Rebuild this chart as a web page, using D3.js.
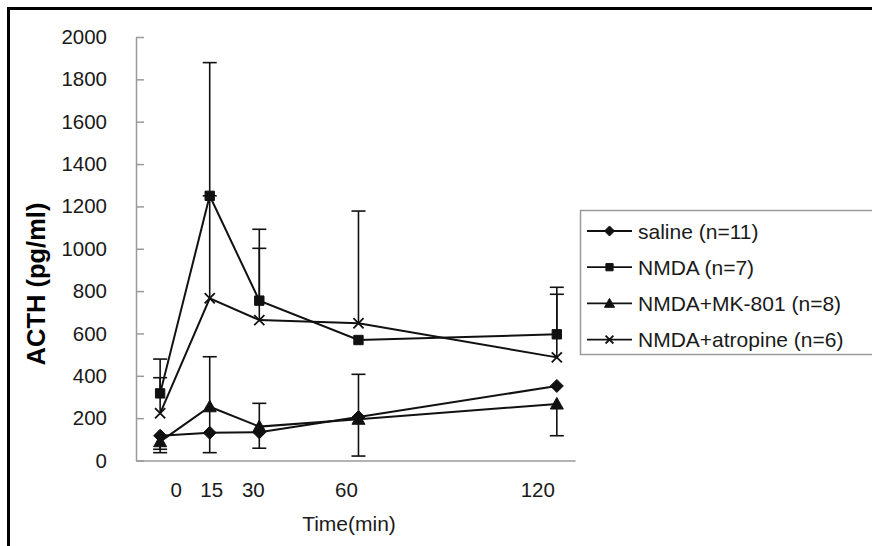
<!DOCTYPE html>
<html>
<head>
    <title>ACTH time course</title>
    <script src="https://d3js.org/d3.v7.min.js"></script>
    <style>
        body { margin: 0; background: #fff; }
        text { font-family: "Liberation Sans", Arial, sans-serif; fill: #1a1a1a; }
        .axis path, .axis line { stroke: #9a9a9a; stroke-width: 1.5px; }
        .series { fill: none; stroke: #111; stroke-width: 2px; }
        .err { stroke: #111; stroke-width: 1.6px; }
    </style>
</head>
<body>
<div id="chart"></div>
<script>
    // time points (min) and mean ACTH (pg/ml) per group
    const times = [0, 15, 30, 60, 120];
    const timeLabels = ["0", "15", "30", "60", "120"];
    const yTicks = [0, 200, 400, 600, 800, 1000, 1200, 1400, 1600, 1800, 2000];

    const saline = [117, 131, 133, 205, 352];
    const nmda = [317, 1250, 755, 569, 596];
    const mk801 = [89, 254, 160, 195, 267];
    const atropine = [223, 766, 663, 648, 487];

    // error bar ends (null = no bar drawn that way)
    const salineHi = [null, null, null, 407, null];
    const salineLo = [53, null, null, 21, null];
    const nmdaHi = [479, 1879, 1092, null, 818];
    const nmdaLo = [null, null, null, null, null];
    const mk801Hi = [null, 490, 270, null, null];
    const mk801Lo = [37, 37, 58, null, 117];
    const atropineHi = [391, 1250, 1002, 1178, 785];
    const atropineLo = [null, null, null, null, null];

    const groups = [
        { name: "saline (n=11)", values: saline, hi: salineHi, lo: salineLo, marker: "diamond" },
        { name: "NMDA (n=7)", values: nmda, hi: nmdaHi, lo: nmdaLo, marker: "square" },
        { name: "NMDA+MK-801 (n=8)", values: mk801, hi: mk801Hi, lo: mk801Lo, marker: "triangle" },
        { name: "NMDA+atropine (n=6)", values: atropine, hi: atropineHi, lo: atropineLo, marker: "cross" }
    ];

    const W = 872, H = 546;
    const svg = d3.select("#chart").append("svg")
        .attr("width", W)
        .attr("height", H);

    // frame of the figure (only top and left edges are visible)
    svg.append("path")
        .attr("d", `M8.5,${H} V8.5 H${W}`)
        .attr("fill", "none")
        .attr("stroke", "#000")
        .attr("stroke-width", 3);

    const x = d3.scaleLinear().domain([-7.3, 125.5]).range([136, 575]);
    const y = d3.scaleLinear().domain([0, 2000]).range([460.5, 37]);

    // y axis, ticks pointing inward
    svg.append("g")
        .attr("class", "axis")
        .attr("transform", "translate(136,0)")
        .call(d3.axisLeft(y).tickValues(yTicks).tickFormat(d3.format("d"))
            .tickSizeInner(-8).tickSizeOuter(0).tickPadding(29))
        .call(g => g.selectAll("text")
            .style("font-size", "20.5px")
            .style("font-family", "'Liberation Sans', Arial, sans-serif")
            .attr("fill", "#1a1a1a"));

    // x axis line only
    svg.append("g")
        .attr("class", "axis")
        .attr("transform", `translate(0,${y(0)})`)
        .call(d3.axisBottom(x).tickValues([]).tickSizeOuter(0));

    // x labels were placed by hand in the original, nudge them the same way
    const labelDx = [16, 2, -6, -12, -19];
    svg.append("g").selectAll("text")
        .data(times)
        .join("text")
        .attr("x", (d, i) => x(d) + labelDx[i])
        .attr("y", 496.5)
        .attr("text-anchor", "middle")
        .style("font-size", "20.5px")
        .text((d, i) => timeLabels[i]);

    svg.append("text")
        .attr("x", 349)
        .attr("y", 530.5)
        .attr("text-anchor", "middle")
        .style("font-size", "21px")
        .text("Time(min)");

    svg.append("text")
        .attr("transform", "translate(45,284) rotate(-90)")
        .attr("text-anchor", "middle")
        .style("font-size", "25.5px")
        .style("font-weight", "bold")
        .style("fill", "#000")
        .text("ACTH (pg/ml)");

    function markerPath(type, s) {
        if (type === "diamond") return `M0,${-s} L${s},0 L0,${s} L${-s},0 Z`;
        if (type === "square") { const h = s * 0.72; return `M${-h},${-h} H${h} V${h} H${-h} Z`; }
        if (type === "triangle") return `M0,${-s} L${s},${s * 0.78} L${-s},${s * 0.78} Z`;
        const c = s * 0.78;
        return `M${-c},${-c} L${c},${c} M${-c},${c} L${c},${-c}`;
    }

    function drawMarker(sel, type, s) {
        sel.append("path")
            .attr("d", markerPath(type, s))
            .attr("fill", type === "cross" ? "none" : "#111")
            .attr("stroke", "#111")
            .attr("stroke-width", type === "cross" ? 1.8 : 1);
    }

    const line = d3.line()
        .x((d, i) => x(times[i]))
        .y(d => y(d));

    const plot = svg.append("g");

    groups.forEach(gr => {
        // error bars
        times.forEach((t, i) => {
            [gr.hi[i], gr.lo[i]].forEach(end => {
                if (end === null) return;
                plot.append("line").attr("class", "err")
                    .attr("x1", x(t)).attr("x2", x(t))
                    .attr("y1", y(gr.values[i])).attr("y2", y(end));
                plot.append("line").attr("class", "err")
                    .attr("x1", x(t) - 7).attr("x2", x(t) + 7)
                    .attr("y1", y(end)).attr("y2", y(end));
            });
        });
    });

    groups.forEach(gr => {
        plot.append("path")
            .datum(gr.values)
            .attr("class", "series")
            .attr("d", line);
    });

    groups.forEach(gr => {
        gr.values.forEach((v, i) => {
            const m = plot.append("g").attr("transform", `translate(${x(times[i])},${y(v)})`);
            drawMarker(m, gr.marker, 6.5);
        });
    });

    // legend
    const legend = svg.append("g").attr("transform", "translate(580,210)");
    legend.append("rect")
        .attr("x", 0.5).attr("y", 0.5)
        .attr("width", 320).attr("height", 144)
        .attr("fill", "#fff")
        .attr("stroke", "#9a9a9a")
        .attr("stroke-width", 1.5);

    const rows = legend.selectAll("g.row")
        .data(groups)
        .join("g")
        .attr("class", "row")
        .attr("transform", (d, i) => `translate(0,${21 + i * 36.2})`);

    rows.append("line")
        .attr("x1", 7).attr("x2", 52)
        .attr("stroke", "#111")
        .attr("stroke-width", 1.8);

    rows.each(function (d) {
        const m = d3.select(this).append("g").attr("transform", "translate(29.5,0)");
        drawMarker(m, d.marker, 5);
    });

    rows.append("text")
        .attr("x", 58)
        .attr("y", 7.5)
        .style("font-size", "21px")
        .text(d => d.name);
</script>
</body>
</html>
